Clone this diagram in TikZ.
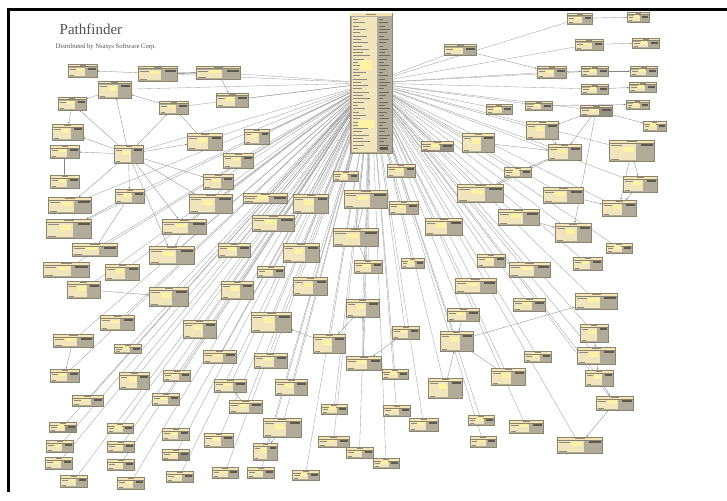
\documentclass[tikz,border=0pt]{standalone}
\usepackage{fontspec}
\setmainfont{Liberation Serif}
\usetikzlibrary{calc,backgrounds,arrows.meta}

\definecolor{entbody}{HTML}{B1AB9A}
\definecolor{entline}{HTML}{8A846F}
\definecolor{enthead}{HTML}{F4E5B6}
\definecolor{entfield}{HTML}{F1E5BE}
\definecolor{entglow}{HTML}{FFF3A3}
\definecolor{entdark}{HTML}{5E5A4E}
\definecolor{entink}{HTML}{8F8A7C}
\definecolor{edgegray}{HTML}{9C9C9C}
\definecolor{titlegray}{HTML}{505050}

\tikzset{
  ent/.style={draw=entline, fill=entbody, line width=0.35pt, inner sep=0pt, outer sep=0pt,
    path picture={
      \coordinate (pp1) at (path picture bounding box.north west);
      \coordinate (pp2) at (path picture bounding box.south east);
      \fill[enthead] (pp1) rectangle ($(pp1-|pp2)+(0pt,-2.6pt)$);
      \draw[entline, line width=0.2pt] ($(pp1)+(0pt,-2.6pt)$) -- ($(pp1-|pp2)+(0pt,-2.6pt)$);
      \fill[entink] ($(pp1)!0.4!(pp1-|pp2)+(0pt,-0.9pt)$) rectangle ($(pp1)!0.62!(pp1-|pp2)+(0pt,-1.7pt)$);
      \fill[entfield] ($(pp1)+(1pt,-3.6pt)$) rectangle ($(pp2)!0.4!(pp2-|pp1)+(0pt,1pt)$);
      \fill[entglow] ($(pp1)!0.32!(pp2)$) rectangle ($(pp1)!0.56!(pp2)$);
      \fill[entink] ($(pp1)+(1.8pt,-5pt)$) rectangle ($(pp1)!0.28!(pp1-|pp2)+(0pt,-5.7pt)$);
      \fill[entink] ($(pp2-|pp1)+(1.8pt,2.4pt)$) rectangle ($(pp2)!0.78!(pp2-|pp1)+(0pt,1.8pt)$);
      \fill[entdark] ($(pp1-|pp2)+(-1pt,-4pt)$) rectangle ($(pp1)!0.7!(pp1-|pp2)+(0pt,-5.8pt)$);
    }},
  entgray/.style={ent, fill=entbody!85!black},
  hubst/.style={draw=entline, fill=entbody, line width=0.4pt, inner sep=0pt, outer sep=0pt},
  hubedge/.style={draw=edgegray, line width=0.32pt},
  link/.style={draw=edgegray!85!black, line width=0.3pt, -{Stealth[length=2.2pt,width=1.6pt]}},
  bond/.style={draw=edgegray!70!black, line width=0.9pt}
}

% entity box: name, left, top, right, bottom (in pixel units)
\newcommand\ent[5]{\node[ent, minimum width={(#4-#2)*1pt}, minimum height={(#5-#3)*1pt}] (#1) at ({(#2+#4)/2},{(#3+#5)/2}) {};}
\newcommand\entg[5]{\node[entgray, minimum width={(#4-#2)*1pt}, minimum height={(#5-#3)*1pt}] (#1) at ({(#2+#4)/2},{(#3+#5)/2}) {};}

\begin{document}
\begin{tikzpicture}[x=1pt,y=-1pt]
\useasboundingbox (0,0) rectangle (727,500);

% frame
\fill[black] (7,8) rectangle (727,10.8);
\fill[black] (7,8) rectangle (9.8,492);

% heading
\node[anchor=base west, text=titlegray, inner sep=0pt, font=\fontsize{15}{16}\selectfont] (title) at (59.5,35) {Pathfinder};
\node[anchor=base west, text=titlegray, inner sep=0pt, font=\fontsize{6.6}{7}\selectfont] (subtitle) at (55.5,49) {Distributed by Nsasys Software Corp.};

% central table
\node[hubst, minimum width=42pt, minimum height=140pt] (hub) at (371,83) {};
\fill[enthead] (350.2,13.2) rectangle (391.8,16.5);
\fill[entink] (366,14.2) rectangle (376,15.4);
\fill[entfield] (351.5,17.5) rectangle (377,151.5);
\foreach \k in {0,...,39} {
  \fill[entink] (352.5,{19.2+\k*3.3}) rectangle ({358+mod(\k*7,13)},{20.2+\k*3.3});
  \fill[entdark!80!entbody] (379,{19.2+\k*3.3}) rectangle ({383+mod(\k*5,8)},{20.1+\k*3.3});
}
\fill[entglow] (360,60) rectangle (372,70);
\fill[entglow] (358,120) rectangle (374,128);
\fill[entdark] (380,147) rectangle (388,150);

% left / upper left
\ent{a1}{68}{64}{97}{77}
\ent{a2}{138}{66}{177}{81}
\ent{a3}{196}{66}{240}{79}
\ent{a4}{98}{81}{131}{98}
\ent{a5}{58}{97}{86}{110}
\ent{a6}{159}{101}{188}{114}
\ent{a7}{216}{93}{248}{107}
\ent{a8}{52}{124}{83}{140}
\ent{a9}{187}{133}{222}{150}
\ent{a10}{244}{129}{269}{144}
\ent{a11}{50}{145}{79}{158}
\ent{a12}{114}{145}{143}{163}
\ent{a13}{223}{153}{253}{168}
\ent{a14}{50}{175}{79}{188}
\ent{a15}{203}{174}{233}{189}
\ent{a16}{115}{189}{144}{203}
\ent{a17}{48}{197}{91}{213}
\ent{a18}{189}{194}{232}{213}
\ent{a19}{243}{193}{287}{203}
\ent{a20}{46}{219}{91}{238}
\ent{a21}{162}{219}{206}{234}
\ent{a22}{72}{243}{117}{256}
\ent{a23}{149}{246}{194}{264}
\ent{a24}{218}{243}{250}{257}
\ent{a25}{43}{262}{89}{277}
\ent{a26}{105}{264}{139}{280}

% below the central table
\ent{m1}{333}{171}{358}{181}
\ent{m2}{387}{164}{415}{177}
\entg{m3}{421}{141}{453}{151}
\ent{m4}{293}{194}{328}{213}
\ent{m5}{344}{190}{387}{208}
\ent{m6}{389}{201}{418}{214}
\ent{m7}{252}{215}{294}{231}
\ent{m8}{333}{228}{378}{246}
\ent{m9}{425}{218}{462}{235}
\ent{m10}{283}{243}{319}{262}
\ent{m11}{354}{260}{382}{273}
\ent{m12}{401}{258}{424}{268}
\ent{m13}{257}{266}{284}{277}
\ent{m14}{293}{277}{327}{295}
\ent{m15}{221}{281}{253}{299}

% right / upper right
\ent{r1}{444}{44}{476}{55}
\ent{r2}{567}{13}{592}{24}
\ent{r3}{575}{39}{603}{50}
\ent{r4}{627}{12}{649}{22}
\ent{r5}{632}{38}{659}{48}
\ent{r6}{537}{66}{566}{78}
\ent{r7}{581}{66}{608}{76}
\ent{r8}{630}{66}{657}{76}
\ent{r9}{581}{84}{608}{94}
\ent{r10}{629}{82}{656}{92}
\ent{r11}{486}{104}{512}{114}
\ent{r12}{525}{101}{552}{110}
\entg{r13}{580}{105}{612}{116}
\ent{r14}{626}{100}{649}{109}
\ent{r15}{643}{121}{666}{131}
\ent{r16}{526}{121}{558}{139}
\ent{r17}{462}{133}{494}{152}
\ent{r18}{548}{144}{581}{160}
\ent{r19}{609}{140}{654}{161}
\ent{r20}{504}{167}{531}{177}
\ent{r21}{623}{176}{657}{192}
\ent{r22}{457}{184}{503}{202}
\ent{r23}{543}{187}{583}{203}
\ent{r24}{602}{200}{636}{216}
\ent{r25}{498}{209}{539}{225}
\ent{r26}{555}{223}{591}{242}
\ent{r27}{606}{243}{632}{253}
\ent{r28}{477}{254}{505}{267}
\ent{r29}{509}{262}{550}{277}
\ent{r30}{573}{257}{602}{270}
\ent{r31}{455}{278}{496}{293}

% lower left
\ent{l1}{67}{281}{100}{298}
\ent{l2}{149}{287}{188}{306}
\ent{l3}{100}{315}{134}{330}
\ent{l4}{183}{320}{216}{338}
\ent{l5}{53}{334}{93}{347}
\ent{l6}{114}{344}{141}{353}
\ent{l7}{203}{350}{236}{363}
\ent{l8}{50}{369}{79}{382}
\ent{l9}{119}{372}{149}{389}
\ent{l10}{163}{370}{190}{381}
\ent{l11}{214}{379}{246}{392}
\ent{l12}{72}{395}{103}{406}
\ent{l13}{152}{393}{179}{405}
\ent{l14}{229}{400}{262}{413}
\entg{l15}{49}{422}{76}{432}
\ent{l16}{107}{423}{133}{433}
\ent{l17}{162}{428}{189}{440}
\ent{l18}{204}{433}{233}{447}
\ent{l19}{46}{440}{73}{452}
\ent{l20}{107}{441}{134}{452}
\entg{l21}{162}{449}{189}{460}
\ent{l22}{45}{457}{72}{469}
\ent{l23}{107}{459}{134}{470}
\ent{l24}{212}{467}{238}{478}
\ent{l25}{60}{475}{87}{487}
\ent{l26}{117}{477}{144}{489}
\ent{l27}{166}{471}{193}{482}

% lower middle
\ent{n2}{346}{299}{379}{317}
\ent{n3}{251}{312}{291}{332}
\ent{n4}{392}{326}{419}{339}
\ent{n5}{447}{308}{479}{321}
\ent{n6}{440}{331}{473}{351}
\ent{n7}{313}{334}{345}{353}
\ent{n8}{254}{353}{287}{368}
\ent{n9}{346}{356}{381}{370}
\ent{n10}{382}{369}{408}{379}
\ent{n11}{275}{379}{307}{395}
\ent{n12}{428}{378}{462}{398}
\ent{n14}{321}{404}{347}{414}
\ent{n15}{383}{405}{410}{416}
\ent{n16}{409}{418}{438}{431}
\ent{n17}{263}{418}{301}{437}
\ent{n18}{468}{415}{494}{425}
\ent{n19}{318}{436}{349}{447}
\ent{n20}{470}{436}{496}{447}
\ent{n21}{253}{443}{277}{460}
\ent{n22}{346}{447}{373}{458}
\ent{n23}{373}{458}{399}{468}
\ent{n24}{247}{467}{274}{478}
\ent{n25}{292}{470}{319}{480}

% lower right
\ent{s1}{575}{293}{617}{309}
\ent{s2}{513}{298}{545}{311}
\ent{s3}{580}{324}{608}{342}
\ent{s4}{577}{347}{615}{364}
\ent{s5}{524}{351}{551}{362}
\ent{s6}{491}{368}{525}{385}
\ent{s7}{585}{370}{613}{386}
\ent{s8}{596}{396}{633}{410}
\ent{s9}{509}{420}{543}{433}
\ent{s10}{557}{437}{602}{453}

\begin{scope}[on background layer]
  \fill[white] (0,0) rectangle (727,500);
  % references held by the central table
  \foreach \t in {a2,a3,a4,a6,a7,a9,a10,a12,a13,a15,a16,a17,a18,a19,a20,a21,a22,a23,a24,a25,a26,
                  m1,m2,m3,m4,m5,m6,m7,m8,m9,m10,m11,m12,m13,m14,m15,
                  r1,r2,r3,r6,r7,r9,r11,r12,r13,r16,r17,r18,r19,r20,r21,r22,r23,r24,r25,r26,r27,r28,r29,r30,r31,
                  l1,l2,l3,l4,l5,l6,l7,l8,l9,l10,l11,l12,l13,l14,l15,l16,l17,l18,l19,l20,l21,l22,l23,l24,l25,l26,l27,
                  n2,n3,n4,n5,n6,n7,n8,n9,n10,n11,n12,n14,n15,n16,n17,n18,n19,n20,n21,n22,n23,n24,n25,
                  s1,s2,s3,s4,s5,s6,s7,s8,s9,s10}
    \draw[hubedge] (hub) -- (\t);
  % references between the other tables
  \draw[bond] (a2) -- (a3);
  \foreach \u/\v in {a2/a1, a4/a5, a5/a8, a12/a5, a12/a4, a12/a6, a12/a11, a11/a14,
                     a12/a16, a12/a17, a12/a18, a12/a15, a12/a9, a12/a21, a12/a23, a12/a8,
                     a16/a20, a9/a6, a6/a4, a3/a7, a21/a23, a16/a22,
                     r3/r5, r2/r4, r7/r8, r9/r10, r12/r14, r13/r15, r6/r7, r1/r6,
                     r13/r16, r13/r18, r13/r26, r16/r18, r18/r20, r18/r22, r19/r21,
                     r21/r24, r23/r24, r25/r26, r17/r18, r19/r24, r22/r20,
                     m5/m8, m8/m11, n2/n7, n7/n3, n6/s1, s4/s7, s7/s8, s8/s10, s3/s4,
                     n12/n6, n4/n9, n9/n2, l1/l2, l5/l8, n17/n21, l14/l11, n5/n6, s6/n6}
    \draw[link] (\u) -- (\v);
\end{scope}
\end{tikzpicture}
\end{document}
